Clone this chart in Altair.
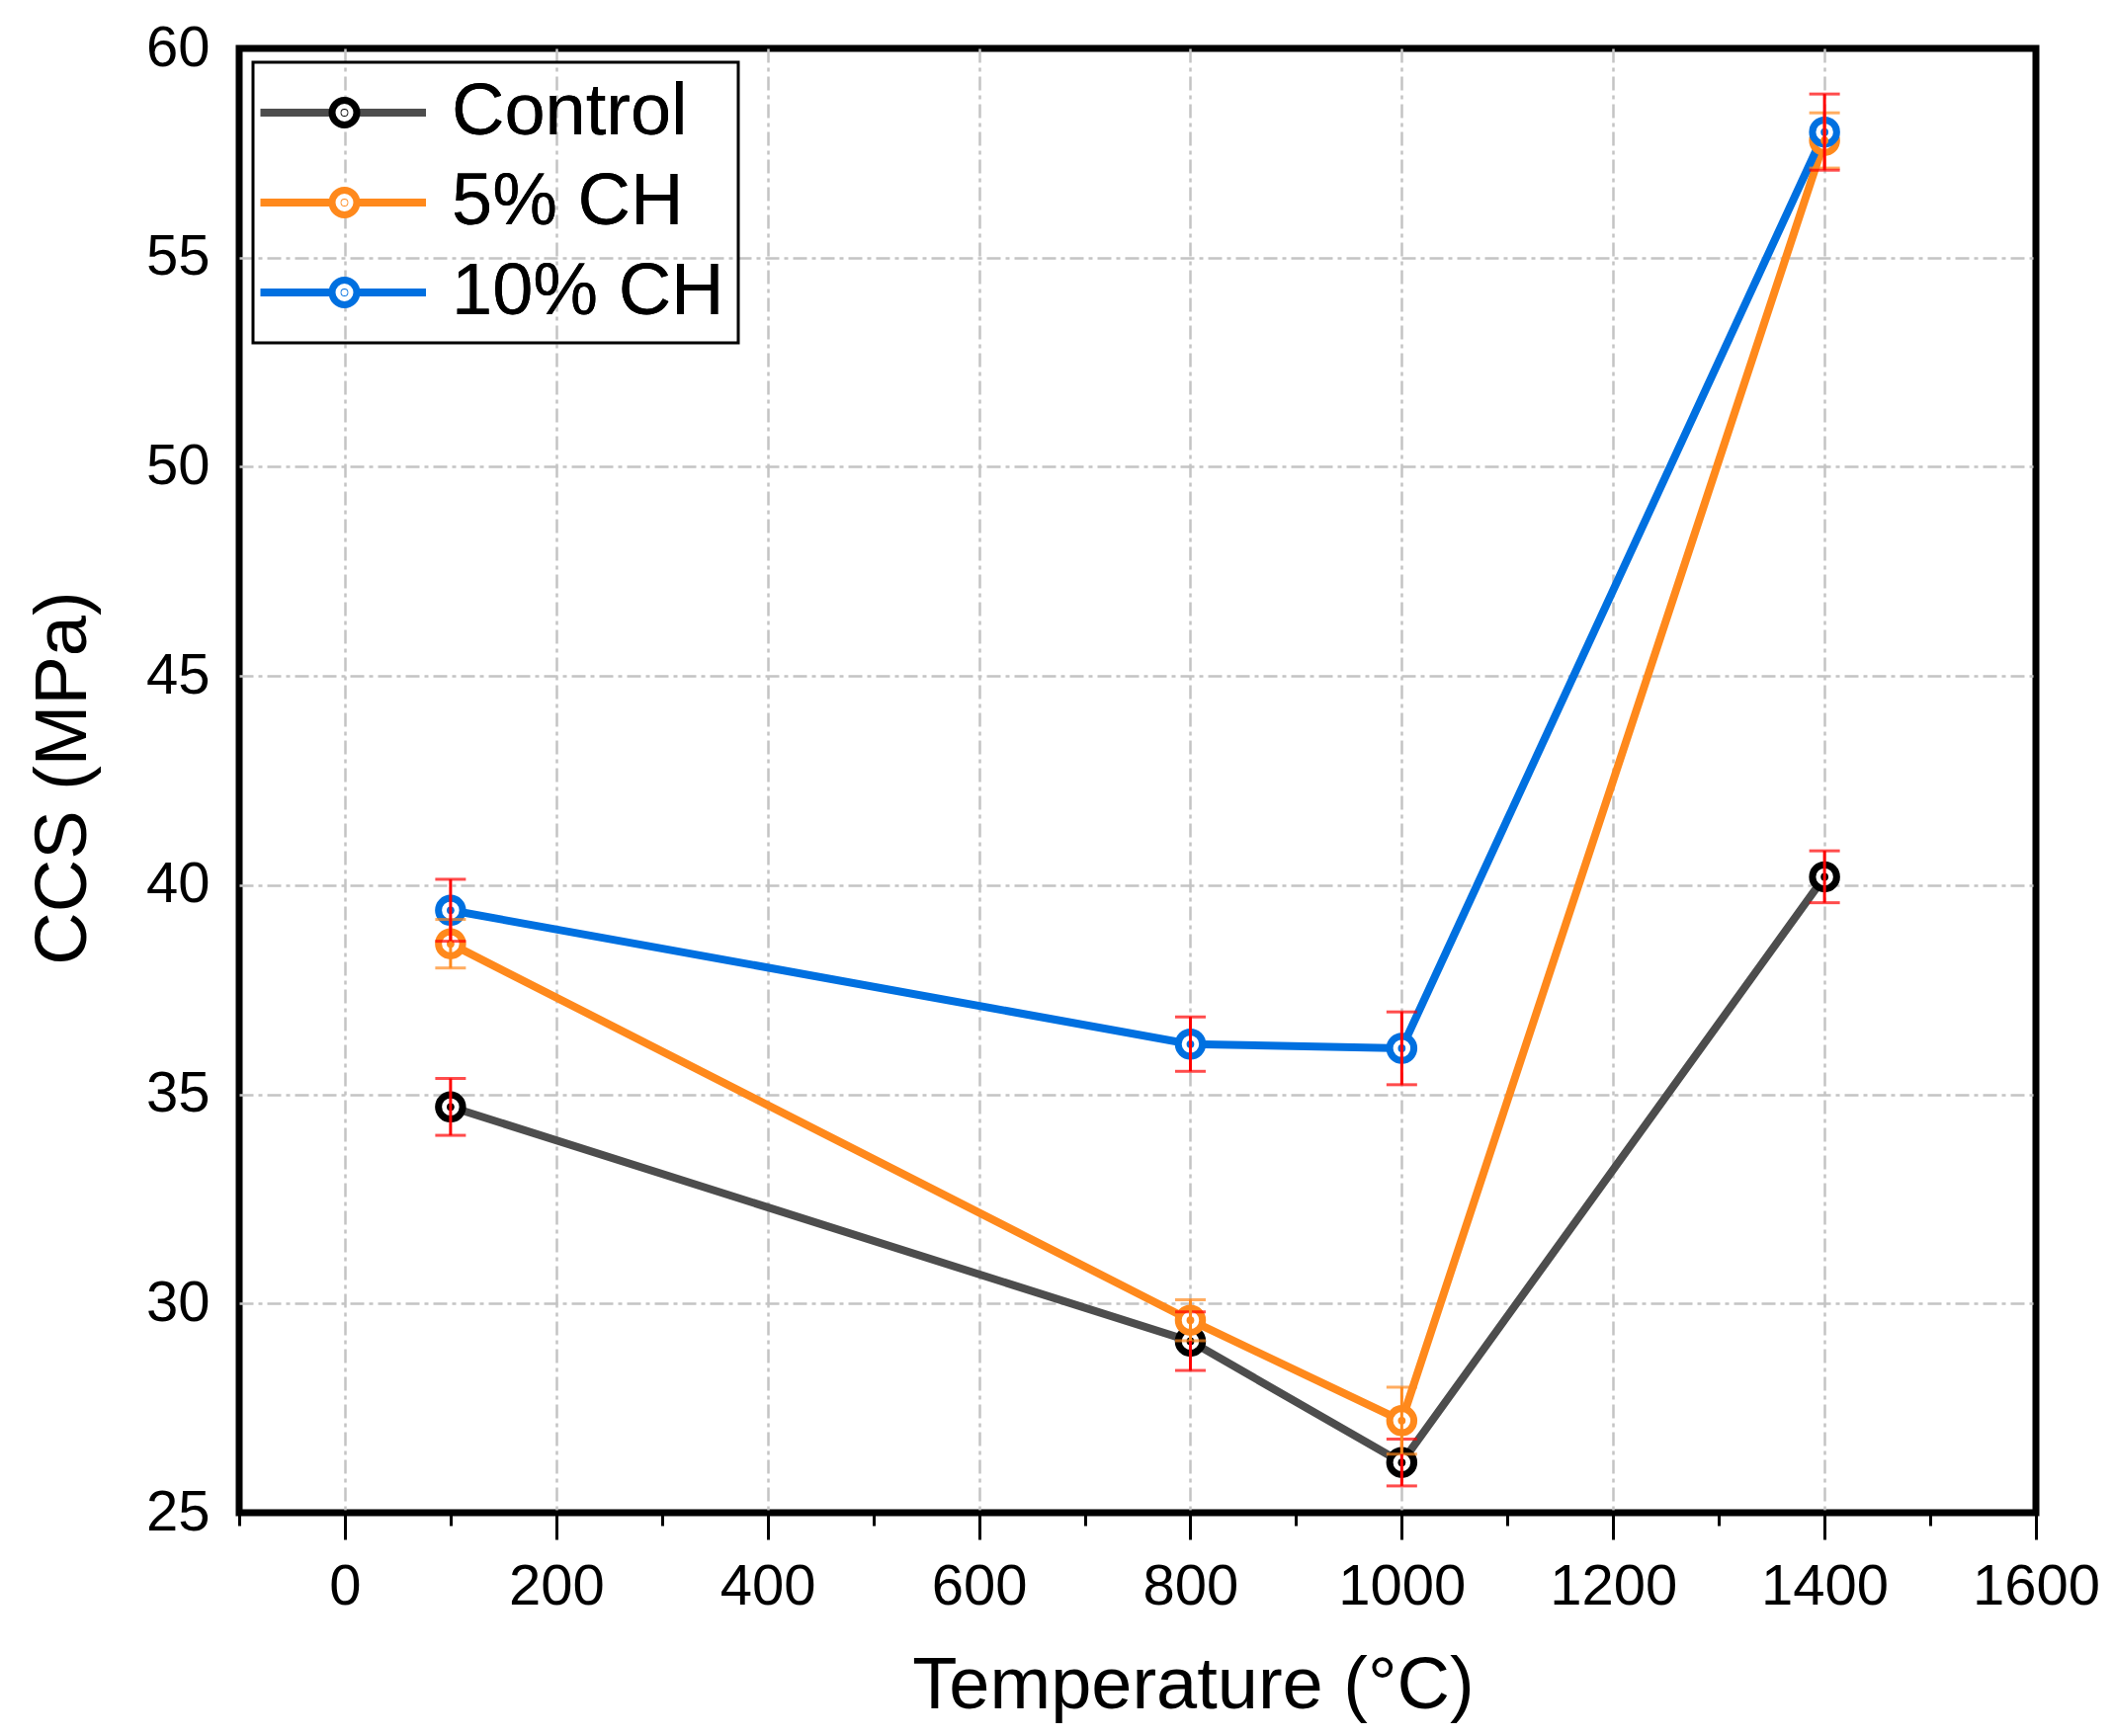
import pandas as pd
import altair as alt

series = ["Control", "5% CH", "10% CH"]
temps = [100, 800, 1000, 1400]

control = [34.7, 29.1, 26.2, 40.2]
control_err = [0.68, 0.70, 0.56, 0.62]
ch5 = [38.6, 29.6, 27.2, 57.8]
ch5_err = [0.58, 0.49, 0.80, 0.66]
ch10 = [39.4, 36.2, 36.1, 58.0]
ch10_err = [0.74, 0.65, 0.87, 0.91]

line_colors = ["#4d4d4d", "#ff891c", "#0070e0"]
marker_colors = ["#000000", "#ff891c", "#0070e0"]
err_colors = ["#ff0000", "#ff891c", "#ff0000"]

x_ticks = list(range(-100, 1601, 100))
y_ticks = list(range(25, 61, 5))

font = "Liberation Sans"
y_title = "CCS (MPa)"

rows = []
for name, vals, errs, ec in zip(series, [control, ch5, ch10], [control_err, ch5_err, ch10_err], err_colors):
	for t, v, e in zip(temps, vals, errs):
		rows.append({"series": name, "temp": t, "ccs": v, "lo": v - e, "hi": v + e, "ecolor": ec})
df = pd.DataFrame(rows)

# legend symbols: custom paths (line with a gap, ring with a centre dot)
line_path = "M-2.175,0H1.55M2.6,0H6.2"
ring_path = "M2.7,0A0.625,0.625,0,1,1,1.45,0A0.625,0.625,0,1,1,2.7,0ZM2.095,0A0.02,0.02,0,1,1,2.055,0A0.02,0.02,0,1,1,2.095,0Z"

def legend(path, width, box):
	opts = dict(
		title = None, orient = "none", legendX = 14, legendY = 14,
		symbolType = path, symbolSize = 1600, symbolStrokeWidth = width,
		labelFont = font, labelFontSize = 74, labelColor = "black", labelLimit = 1000,
		labelOffset = 113, padding = 14,
	)
	if box:
		opts.update(strokeColor = "black")
	return alt.Legend(**opts)

x = alt.X("temp:Q", title = "Temperature (°C)",
	scale = alt.Scale(domain = [-100, 1600], nice = False, zero = False),
	axis = alt.Axis(
		values = x_ticks, format = "d", labelOverlap = False, labelFlush = False,
		labelExpr = "datum.value % 200 === 0 ? datum.label : ''",
		tickSize = {"condition": {"test": "datum.value % 200 === 0", "value": 27}, "value": 13},
		gridOpacity = {"condition": {"test": "datum.value % 200 === 0 && datum.value < 1600", "value": 1}, "value": 0},
		tickWidth = 3, tickColor = "black", domain = False,
		labelPadding = 19, titleX = 965, titleY = 197, titleBaseline = "alphabetic",
	))
y_axis = alt.Axis(
	values = y_ticks, ticks = False, domain = False, labelPadding = 30, labelFlush = False,
	gridOpacity = {"condition": {"test": "datum.value > 25 && datum.value < 60", "value": 1}, "value": 0},
	titleAngle = 270, titleX = -156, titleY = 738, titleAlign = "center", titleBaseline = "alphabetic",
)
y = alt.Y("ccs:Q", title = y_title, scale = alt.Scale(domain = [25, 60], nice = False, zero = False), axis = y_axis)

base = alt.Chart(df)

lines = base.mark_line(strokeWidth = 8).encode(
	x = x, y = y,
	color = alt.Color("series:N", scale = alt.Scale(domain = series, range = line_colors), legend = legend(line_path, 8, True)))

rings = base.mark_point(filled = False, fill = "white", strokeWidth = 7, size = 600, opacity = 1).encode(
	x = x, y = y,
	color = alt.Color("series:N", scale = alt.Scale(domain = series, range = marker_colors), legend = legend(ring_path, 7, False)))

dots = base.mark_point(filled = True, size = 60, opacity = 1).encode(
	x = x, y = y,
	color = alt.Color("series:N", scale = alt.Scale(domain = series, range = marker_colors), legend = None))

bars = base.mark_errorbar(ticks = {"size": 31, "thickness": 3}, thickness = 3).encode(
	x = x, y = alt.Y("lo:Q", title = y_title), y2 = "hi:Q",
	color = alt.Color("ecolor:N", scale = None))

chart = alt.layer(lines, rings, dots, bars).resolve_scale(color = "independent").properties(
	width = 1818, height = 1482,
	padding = {"left": 234, "top": 41, "right": 70, "bottom": 240},
	autosize = alt.AutoSizeParams(type = "none"),
	background = "white",
).configure_axis(
	labelFont = font, titleFont = font, labelFontSize = 58, titleFontSize = 74,
	labelColor = "black", titleColor = "black", titleFontWeight = "normal",
	gridColor = "#c4c4c4", gridWidth = 2.5, gridDash = [14, 5, 4, 5],
).configure_legend(
	strokeWidth = 3, rowPadding = 17,
).configure_view(stroke = "black", strokeWidth = 7)

chart.save("out.html", embed_options = {"renderer": "svg", "actions": False})
